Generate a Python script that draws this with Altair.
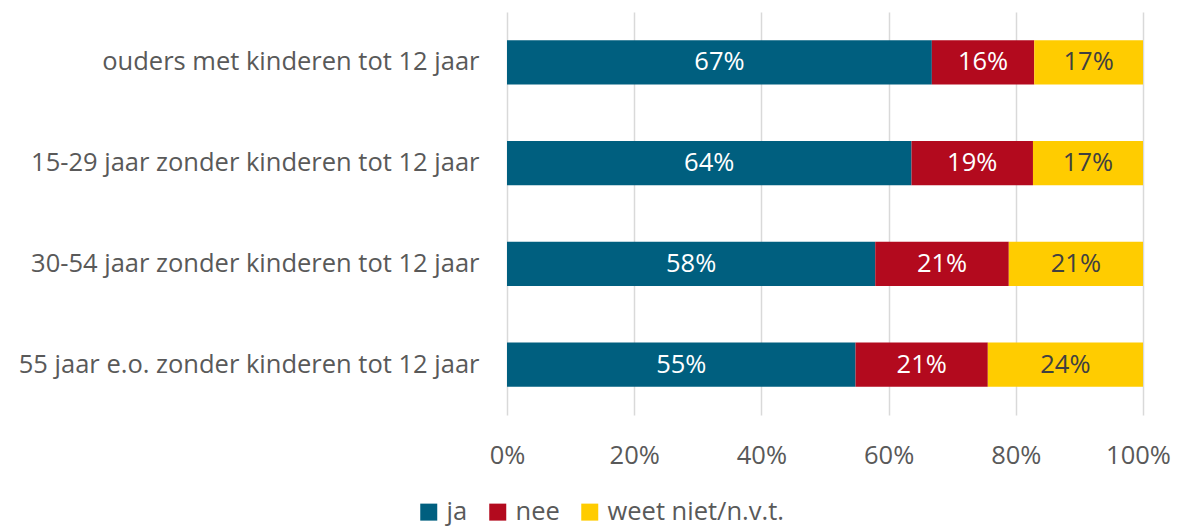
import altair as alt
import pandas as pd

groups = [
    "ouders met kinderen tot 12 jaar",
    "15-29 jaar zonder kinderen tot 12 jaar",
    "30-54 jaar zonder kinderen tot 12 jaar",
    "55 jaar e.o. zonder kinderen tot 12 jaar",
]
categories = ["ja", "nee", "weet niet/n.v.t."]
ja = [66.8, 63.6, 57.9, 54.8]
nee = [16.1, 19.1, 21.0, 20.8]
weet = [17.1, 17.3, 21.1, 24.4]
labels_ja = ["67%", "64%", "58%", "55%"]
labels_nee = ["16%", "19%", "21%", "21%"]
labels_weet = ["17%", "17%", "21%", "24%"]
colors = ["#005f7f", "#b30a1e", "#ffcc00"]
text_colors = ["#ffffff", "#ffffff", "#404040"]

rows = []
for i, g in enumerate(groups):
    for k, (vals, labs) in enumerate([(ja, labels_ja), (nee, labels_nee), (weet, labels_weet)]):
        rows.append({"groep": g, "cat": categories[k], "order": k,
                     "value": vals[i] / 100.0, "label": labs[i], "tcolor": text_colors[k]})
df = pd.DataFrame(rows)

FONT = "Open Sans"
FS = 25.5

base = alt.Chart(df).transform_stack(
    stack="value", groupby=["groep"], as_=["x0", "x1"],
    sort=[alt.SortField("order", order="ascending")]
).transform_calculate(mid="(datum.x0 + datum.x1) / 2")

y_enc = alt.Y("groep:N", sort=groups, title=None,
              scale=alt.Scale(paddingInner=0.56, paddingOuter=0.28),
              axis=alt.Axis(domain=False, ticks=False, labelFontSize=FS,
                            labelColor="#595959", labelFont=FONT,
                            labelPadding=28, labelLimit=600))

bars = base.mark_bar().encode(
    x=alt.X("x0:Q", title=None,
            scale=alt.Scale(domain=[0, 1], nice=False),
            axis=alt.Axis(format=".0%", values=[0, 0.2, 0.4, 0.6, 0.8, 1.0],
                          domain=False, ticks=False, grid=True,
                          gridColor="#d9d9d9", gridWidth=1.5,
                          labelFontSize=FS, labelColor="#595959",
                          labelFont=FONT, labelPadding=28, labelFlush=False,
                          labelOffset=alt.condition("datum.value == 1",
                                                    alt.value(-5), alt.value(0)))),
    x2="x1:Q",
    y=y_enc,
    color=alt.Color("cat:N", sort=categories,
                    scale=alt.Scale(domain=categories, range=colors),
                    legend=alt.Legend(title=None, orient="none",
                                      direction="horizontal",
                                      legendX=-91, legendY=487,
                                      symbolType="square", symbolSize=289,
                                      symbolStrokeWidth=0,
                                      labelFontSize=FS, labelColor="#595959",
                                      labelFont=FONT, columnPadding=17,
                                      labelLimit=400,
                                      symbolOffset=0, labelOffset=5)),
    order=alt.Order("order:Q"),
)

texts = base.mark_text(fontSize=FS, font=FONT).encode(
    x="mid:Q",
    y=alt.Y("groep:N", sort=groups),
    text="label:N",
    color=alt.Color("tcolor:N", scale=None),
)

chart = alt.layer(bars, texts).properties(
    width=636, height=403,
    autosize=alt.AutoSizeParams(type="none"),
    padding={"left": 499, "top": 4, "right": 28, "bottom": 112},
).configure_view(stroke=None)

chart.save("out.html", embed_options={"renderer": "svg", "actions": False})
